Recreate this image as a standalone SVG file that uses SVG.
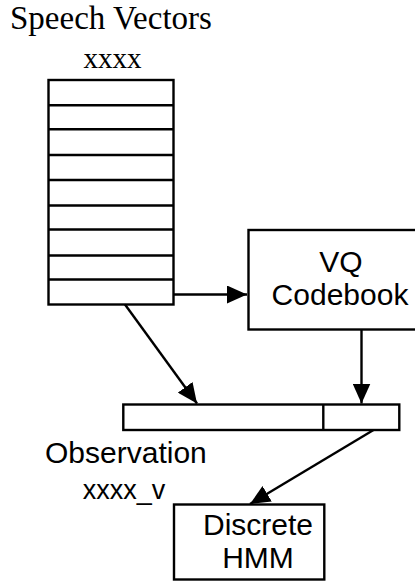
<svg xmlns="http://www.w3.org/2000/svg" width="415" height="581" viewBox="0 0 415 581">
<style>
.box{fill:#fff;stroke:#000;stroke-width:2.4}
.ln{stroke:#000;stroke-width:2.4;fill:none}
.serif{font-family:"Liberation Serif","Times New Roman",serif;fill:#000}
.sans{font-family:"Liberation Sans",Arial,sans-serif;fill:#000}
</style>
<defs>
<marker id="arr" markerWidth="20" markerHeight="18" refX="20" refY="9" orient="auto" markerUnits="userSpaceOnUse">
<path d="M0,0 L20,9 L0,18 Z" fill="#000"/>
</marker>
</defs>
<rect width="415" height="581" fill="#fff"/>
<g id="title">
<text class="serif" x="10" y="29" font-size="33">Speech Vectors</text>
<text class="serif" x="112.5" y="68" font-size="29" text-anchor="middle">xxxx</text>
</g>
<g id="speech-vectors">
<rect class="box" x="48.5" y="80" width="125" height="224.5"/>
<path class="ln" d="M48.5,105.3H173.5M48.5,129.3H173.5M48.5,155H173.5M48.5,180H173.5M48.5,205.5H173.5M48.5,229.5H173.5M48.5,255.5H173.5M48.5,279.5H173.5"/>
</g>
<g id="vq-codebook">
<rect class="box" x="248.5" y="230" width="180" height="99.5"/>
<text class="sans" x="341" y="272" font-size="30" text-anchor="middle">VQ</text>
<text class="sans" x="340" y="305" font-size="30" text-anchor="middle">Codebook</text>
</g>
<g id="observation">
<rect class="box" x="123.3" y="404.5" width="276" height="25.5"/>
<line class="ln" x1="323.3" y1="404.5" x2="323.3" y2="430"/>
<text class="sans" x="45" y="463" font-size="30">Observation</text>
<text class="sans" x="124" y="499" font-size="27" text-anchor="middle">xxxx_v</text>
</g>
<g id="discrete-hmm">
<rect class="box" x="174" y="504.5" width="150.3" height="75"/>
<text class="sans" x="258" y="535" font-size="30" text-anchor="middle">Discrete</text>
<text class="sans" x="258" y="568" font-size="30" text-anchor="middle">HMM</text>
</g>
<g id="connectors">
<line class="ln" x1="173.5" y1="294.5" x2="247" y2="294.5" marker-end="url(#arr)"/>
<line class="ln" x1="125" y1="304.5" x2="197" y2="403.5" marker-end="url(#arr)"/>
<line class="ln" x1="361.5" y1="329.5" x2="361.5" y2="403.5" marker-end="url(#arr)"/>
<line class="ln" x1="373.5" y1="430" x2="250" y2="504" marker-end="url(#arr)"/>
</g>
</svg>
